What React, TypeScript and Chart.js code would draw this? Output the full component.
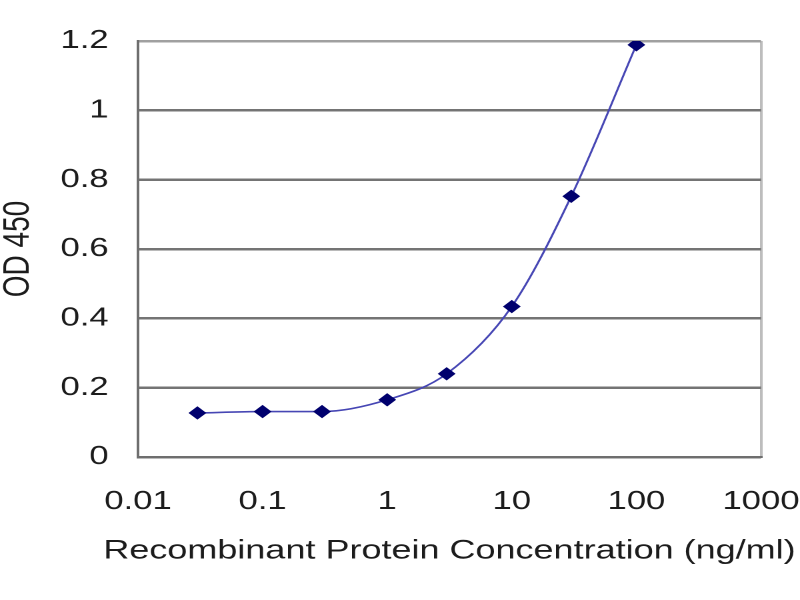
import React, { useEffect, useRef } from "react";
import { Chart, registerables } from "chart.js";

Chart.register(...registerables);

// Data
const concentrations = [0.03, 0.1, 0.3, 1, 3, 10, 30, 100];
const od450 = [0.127, 0.131, 0.131, 0.165, 0.24, 0.434, 0.752, 1.189];

const xTickValues = [0.01, 0.1, 1, 10, 100, 1000];
const xTickLabels = ["0.01", "0.1", "1", "10", "100", "1000"];
const yTickValues = [0, 0.2, 0.4, 0.6, 0.8, 1, 1.2];
const yTickLabels = ["0", "0.2", "0.4", "0.6", "0.8", "1", "1.2"];

const xTitle = "Recombinant Protein Concentration (ng/ml)";
const yTitle = "OD 450";

// The reference image is horizontally stretched; draw on a narrower canvas and stretch it by CSS.
const INNER_W = 600;
const INNER_H = 600;
const SX = 800 / INNER_W;

const FONT = "'Liberation Sans', Arial, sans-serif";
const TEXT = "#1c1c1c";

// Bottom axis title drawn by a small plugin so it is not squeezed to the plot width
const xTitlePlugin = {
  id: "xTitleWide",
  afterDraw(chart: any) {
    const { ctx, chartArea } = chart;
    ctx.save();
    ctx.font = `27px ${FONT}`;
    ctx.fillStyle = TEXT;
    ctx.textAlign = "center";
    ctx.textBaseline = "middle";
    ctx.fillText(xTitle, (chartArea.left + chartArea.right) / 2, chartArea.bottom + 94);
    ctx.restore();
  },
};

export default function App() {
  const ref = useRef<HTMLCanvasElement | null>(null);

  useEffect(() => {
    document.body.style.margin = "0";
    const canvas = ref.current;
    if (!canvas) return;
    const chart = new Chart(canvas, {
      type: "line",
      data: {
        datasets: [
          {
            data: concentrations.map((c, i) => ({ x: c, y: od450[i] })),
            borderColor: "#4646b4",
            borderWidth: 1.6,
            backgroundColor: "#00006e",
            pointBackgroundColor: "#00006e",
            pointBorderColor: "#00006e",
            pointBorderWidth: 1,
            pointStyle: "rectRot",
            pointRadius: 6,
            cubicInterpolationMode: "monotone",
            fill: false,
          },
        ],
      },
      options: {
        responsive: false,
        animation: false,
        devicePixelRatio: 2,
        layout: { padding: { top: 41, right: INNER_W - 761 / SX, left: 0, bottom: 0 } },
        plugins: { legend: { display: false }, tooltip: { enabled: false } },
        scales: {
          x: {
            type: "logarithmic",
            min: 0.01,
            max: 1000,
            afterBuildTicks: (s: any) => {
              s.ticks = xTickValues.map((v) => ({ value: v }));
            },
            afterFit: (s: any) => {
              s.height = INNER_H - 457;
              s.paddingLeft = 0;
              s.paddingRight = 0;
            },
            ticks: {
              autoSkip: false,
              maxRotation: 0,
              minRotation: 0,
              padding: 32,
              color: TEXT,
              font: { family: FONT, size: 26, lineHeight: 1 },
              callback: (v: any) => {
                const i = xTickValues.indexOf(Number(v));
                return i >= 0 ? xTickLabels[i] : "";
              },
            },
            grid: {
              drawTicks: false,
              lineWidth: 2,
              color: (ctx: any) =>
                ctx.tick && ctx.tick.value === 1000 ? "#bdbdbd" : "rgba(0,0,0,0)",
            },
            border: { display: true, color: "#6e6e6e", width: 2 },
            title: { display: false },
          },
          y: {
            type: "linear",
            min: 0,
            max: 1.2,
            afterBuildTicks: (s: any) => {
              s.ticks = yTickValues.map((v) => ({ value: v }));
            },
            afterFit: (s: any) => {
              s.width = 138 / SX;
            },
            ticks: {
              padding: 22,
              color: TEXT,
              font: { family: FONT, size: 26, lineHeight: 1 },
              callback: (v: any) => {
                const i = yTickValues.findIndex((t) => Math.abs(t - Number(v)) < 1e-9);
                return i >= 0 ? yTickLabels[i] : "";
              },
            },
            grid: {
              drawTicks: false,
              lineWidth: 2.5,
              color: (ctx: any) =>
                ctx.tick && Math.abs(ctx.tick.value - 1.2) < 1e-9 ? "#a0a0a0" : "#747474",
            },
            border: { display: true, color: "#6e6e6e", width: 2 },
            title: {
              display: true,
              text: yTitle,
              color: TEXT,
              font: { family: FONT, size: 28, lineHeight: 1 },
              padding: { top: 0, bottom: 0 },
            },
          },
        },
      },
      plugins: [xTitlePlugin],
    } as any);
    return () => chart.destroy();
  }, []);

  return (
    <canvas
      ref={ref}
      width={INNER_W}
      height={INNER_H}
      style={{ width: "800px", height: "600px", display: "block" }}
    />
  );
}
